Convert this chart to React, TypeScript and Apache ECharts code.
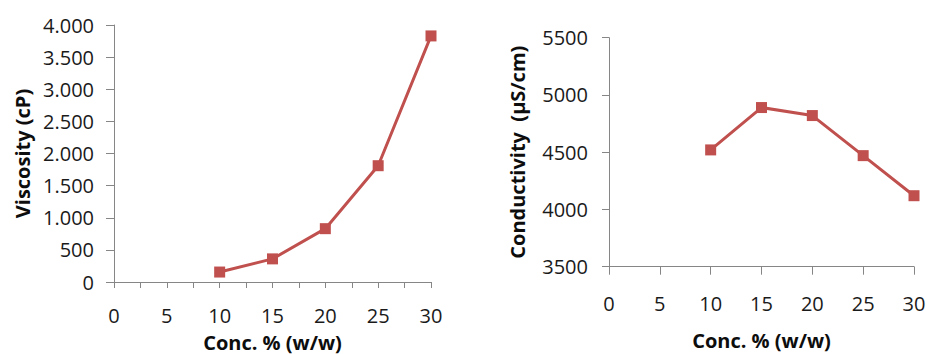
import React, { useEffect, useRef } from "react";
import * as echarts from "echarts";

const concentrations = [10, 15, 20, 25, 30];
const viscosity = [155, 360, 830, 1810, 3830];
const conductivity = [4520, 4890, 4820, 4470, 4120];

const viscosityTitle = "Viscosity (cP)";
const conductivityTitle = "Conductivity  (µS/cm)";
const concTitle = "Conc. % (w/w)";

const RED = "#C0504D";
const AXIS = "#868686";
const TEXT = "#1a1a1a";
const FONT = "'Open Sans', 'Noto Sans', sans-serif";

function dotThousands(v: number): string {
  const s = String(Math.round(v));
  return s.replace(/\B(?=(\d{3})+(?!\d))/g, ".");
}

export default function App() {
  const ref = useRef<HTMLDivElement>(null);
  useEffect(() => {
    if (!ref.current) return;
    const chart = echarts.init(ref.current, undefined, { renderer: "svg" });
    const labelStyle = { color: TEXT, fontFamily: FONT, fontSize: 20 };
    const nameStyle = { color: "#0d0d0d", fontFamily: FONT, fontSize: 20, fontWeight: "bold" as const };
    chart.setOption({
      animation: false,
      backgroundColor: "#ffffff",
      grid: [
        { left: 114, top: 25, width: 317, height: 257, outerBoundsMode: "none", containLabel: false },
        { left: 609, top: 37.7, width: 305, height: 229, outerBoundsMode: "none", containLabel: false },
      ],
      xAxis: [
        {
          gridIndex: 0,
          type: "value",
          min: 0,
          max: 30,
          interval: 2.5,
          name: concTitle,
          nameLocation: "middle",
          nameGap: 50,
          nameTextStyle: nameStyle,
          axisLine: { show: true, lineStyle: { color: AXIS, width: 1 } },
          axisTick: { show: true, length: 6, lineStyle: { color: AXIS } },
          axisLabel: {
            ...labelStyle,
            margin: 23,
            formatter: (v: number) => (v % 5 === 0 ? String(v) : ""),
          },
          splitLine: { show: false },
        },
        {
          gridIndex: 1,
          type: "value",
          min: 0,
          max: 30,
          interval: 5,
          name: concTitle,
          nameLocation: "middle",
          nameGap: 64,
          nameTextStyle: nameStyle,
          axisLine: { show: true, lineStyle: { color: AXIS, width: 1 } },
          axisTick: { show: true, length: 8, lineStyle: { color: AXIS } },
          axisLabel: { ...labelStyle, margin: 27, formatter: (v: number) => String(v) },
          splitLine: { show: false },
        },
      ],
      yAxis: [
        {
          gridIndex: 0,
          type: "value",
          min: 0,
          max: 4000,
          interval: 500,
          name: viscosityTitle,
          nameLocation: "middle",
          nameGap: 82,
          nameTextStyle: nameStyle,
          axisLine: { show: true, lineStyle: { color: AXIS, width: 1 } },
          axisTick: { show: true, length: 8, lineStyle: { color: AXIS } },
          axisLabel: { ...labelStyle, margin: 20, formatter: (v: number) => dotThousands(v) },
          splitLine: { show: false },
        },
        {
          gridIndex: 1,
          type: "value",
          min: 3500,
          max: 5500,
          interval: 500,
          name: conductivityTitle,
          nameLocation: "middle",
          nameGap: 82,
          nameTextStyle: nameStyle,
          axisLine: { show: true, lineStyle: { color: AXIS, width: 1 } },
          axisTick: { show: true, length: 7, lineStyle: { color: AXIS } },
          axisLabel: { ...labelStyle, margin: 21, formatter: (v: number) => String(v) },
          splitLine: { show: false },
        },
      ],
      series: [
        {
          type: "line",
          xAxisIndex: 0,
          yAxisIndex: 0,
          data: concentrations.map((c, i) => [c, viscosity[i]]),
          symbol: "rect",
          symbolSize: 11,
          lineStyle: { color: RED, width: 3 },
          itemStyle: { color: RED },
        },
        {
          type: "line",
          xAxisIndex: 1,
          yAxisIndex: 1,
          data: concentrations.map((c, i) => [c, conductivity[i]]),
          symbol: "rect",
          symbolSize: 11,
          lineStyle: { color: RED, width: 3 },
          itemStyle: { color: RED },
        },
      ],
    });
    return () => chart.dispose();
  }, []);
  return (
    <div
      ref={ref}
      style={{ position: "fixed", left: 0, top: 0, width: 927, height: 354, background: "#fff" }}
    />
  );
}
